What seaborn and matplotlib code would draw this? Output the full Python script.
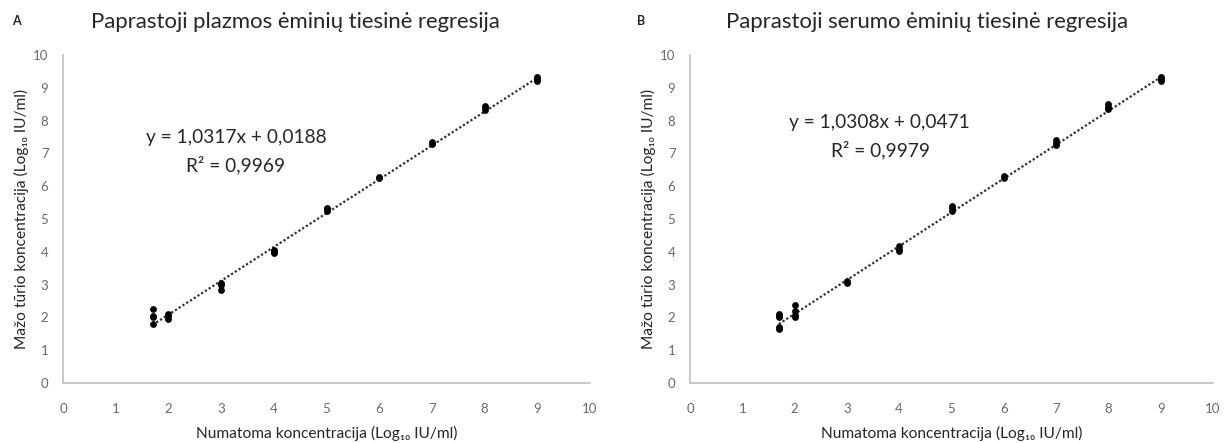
import numpy as np
import pandas as pd
import matplotlib
matplotlib.use('Agg')
import matplotlib.pyplot as plt
import seaborn as sns

plasma_x = [1.7, 1.7, 1.7, 1.7, 2, 2, 2, 3, 3, 3, 4, 4, 4, 5, 5, 5, 6, 6, 7, 7, 8, 8, 8, 9, 9, 9]
plasma_y = [2.25, 2.05, 2.0, 1.8, 2.1, 2.05, 1.95, 3.05, 3.0, 2.85, 4.05, 4.0, 3.95,
            5.35, 5.3, 5.25, 6.25, 6.28, 7.3, 7.35, 8.45, 8.4, 8.32, 9.32, 9.27, 9.22]
serum_x = [1.7, 1.7, 1.7, 1.7, 1.7, 2, 2, 2, 2, 3, 3, 4, 4, 4, 5, 5, 5, 6, 6, 7, 7, 7, 8, 8, 8, 9, 9, 9]
serum_y = [2.1, 2.05, 2.0, 1.72, 1.65, 2.37, 2.2, 2.07, 2.0, 3.12, 3.05, 4.17, 4.1, 4.02,
           5.4, 5.33, 5.25, 6.32, 6.25, 7.42, 7.33, 7.25, 8.5, 8.42, 8.35, 9.33, 9.27, 9.2]

# trendline coefficients as printed on the chart
slopes = [1.0317, 1.0308]
intercepts = [0.0188, 0.0471]
eq_texts = ['y = 1,0317x + 0,0188', 'y = 1,0308x + 0,0471']
r2_texts = ['R² = 0,9969', 'R² = 0,9979']
titles = ['Paprastoji plazmos ėminių tiesinė regresija', 'Paprastoji serumo ėminių tiesinė regresija']
panel_letters = ['A', 'B']
xlabel = 'Numatoma koncentracija (Log₁₀ IU/ml)'
ylabel = 'Mažo tūrio koncentracija (Log₁₀ IU/ml)'

sns.set_style('white')
plt.rcParams['font.family'] = ['Lato', 'DejaVu Sans']

W, H = 1227, 443
fig = plt.figure(figsize=(W / 100, H / 100), dpi=100)
ax_a = fig.add_axes([63 / W, 1 - 383 / H, 527 / W, 328 / H])
ax_b = fig.add_axes([690 / W, 1 - 383 / H, 523 / W, 328 / H])
renderer = fig.canvas.get_renderer()


def fit_size(t, target_px, dim='width'):
    # scale a text so its rendered extent matches the reference
    bb = t.get_window_extent(renderer)
    cur = bb.width if dim == 'width' else bb.height
    t.set_fontsize(t.get_fontsize() * target_px / cur)


datasets = [pd.DataFrame({'x': plasma_x, 'y': plasma_y}),
            pd.DataFrame({'x': serum_x, 'y': serum_y})]
# right edge of equation / R2 lines (data units) and their heights
eq_pos = [(5.0, 4.21, 7.47, 6.65), (5.35, 4.59, 7.95, 7.1)]
title_right = [500, 1128]
letter_px = [12, 637]

title_size = None
for i, ax in enumerate([ax_a, ax_b]):
    df = datasets[i]
    xs = np.array([df['x'].min(), df['x'].max()])
    trend = pd.DataFrame({'x': xs, 'y': slopes[i] * xs + intercepts[i]})
    sns.lineplot(data=trend, x='x', y='y', ax=ax, color='#303030',
                 linestyle=(0, (1, 1)), linewidth=1.6)
    sns.scatterplot(data=df, x='x', y='y', ax=ax, s=24, color='black',
                    linewidth=0, zorder=3)
    ax.set_xlim(0, 10)
    ax.set_ylim(0, 10)
    ax.set_xticks(range(0, 11))
    ax.set_yticks(range(0, 11))
    for s in ['top', 'right']:
        ax.spines[s].set_visible(False)
    for s in ['left', 'bottom']:
        ax.spines[s].set_color('#c0c0c0')
        ax.spines[s].set_linewidth(1.2)
    ax.tick_params(direction='inout', length=7, width=1, color='#c0c0c0',
                   labelcolor='#6a6a6a', labelsize=9.5)
    ax.tick_params(axis='x', pad=11)
    ax.tick_params(axis='y', pad=7)

    ax.set_xlabel(xlabel, fontsize=10.5)
    ax.set_ylabel(ylabel, fontsize=10.5)
    fit_size(ax.yaxis.label, 262, 'height')
    ax.xaxis.label.set_fontsize(ax.yaxis.label.get_fontsize())
    ax_w = ax.get_position().width * W
    ax.xaxis.label.set_va('center')
    ax.yaxis.label.set_va('center')
    ax.yaxis.label.set_ha('center')
    ax.xaxis.set_label_coords(0.5, -(433 - 383) / 328)
    ax.yaxis.set_label_coords(-42 / ax_w, 0.5)

    ex1, ex2, ey1, ey2 = eq_pos[i]
    t1 = ax.text(ex1, ey1, eq_texts[i], ha='right', va='center', fontsize=13)
    fit_size(t1, 180)
    ax.text(ex2, ey2, r2_texts[i], ha='right', va='center', fontsize=t1.get_fontsize())

    tt = fig.text(title_right[i] / W, 1 - 28 / H, titles[i], ha='right',
                  va='baseline', fontsize=14)
    if title_size is None:
        fit_size(tt, 412)
        title_size = tt.get_fontsize()
    else:
        tt.set_fontsize(title_size)
    fig.text(letter_px[i] / W, 1 - 25 / H, panel_letters[i], ha='left',
             va='baseline', fontsize=9, fontweight='bold')

fig.savefig('out.png', dpi=100)
